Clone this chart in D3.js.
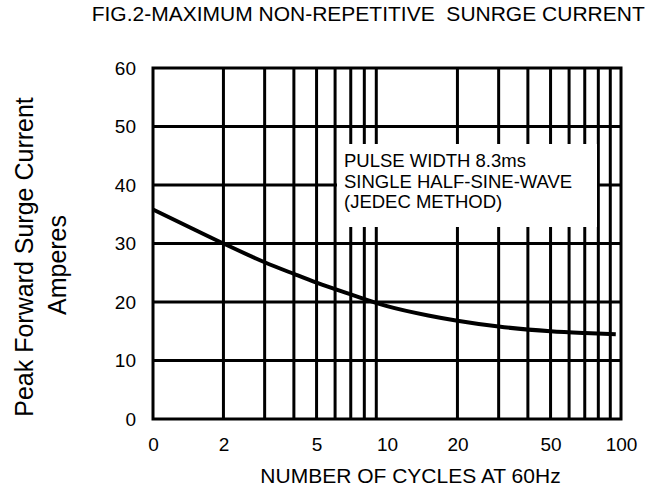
<!DOCTYPE html>
<html>
<head>
<meta charset="utf-8">
<script src="https://cdn.jsdelivr.net/npm/d3@7"></script>
<style>
  html, body { margin: 0; padding: 0; background: #fff; }
  svg { display: block; font-family: "Liberation Sans", Arial, sans-serif; }
</style>
</head>
<body>
<script>
// ---- data ----
const cycles = [1, 1.5, 2, 3, 4, 5, 7, 10, 15, 20, 30, 50, 70, 95];
const amps   = [35.8, 32.4, 30.0, 26.8, 24.8, 23.3, 21.3, 19.3, 17.7, 16.8, 15.8, 15.0, 14.7, 14.5];
const xTickValues = [1, 2, 5, 10, 20, 50, 100];
const xTickLabels = ["0", "2", "5", "10", "20", "50", "100"];
const yTickValues = [0, 10, 20, 30, 40, 50, 60];
const xGridValues = [2, 3, 4, 5, 6, 7, 8, 9, 20, 30, 40, 50, 60, 70, 80, 90];
const yGridValues = [10, 20, 30, 40, 50];
const noteLines = ["PULSE WIDTH 8.3ms", "SINGLE HALF-SINE-WAVE", "(JEDEC METHOD)"];
const titleText = "FIG.2-MAXIMUM NON-REPETITIVE  SUNRGE CURRENT";
const xTitle = "NUMBER OF CYCLES AT 60Hz";
const yTitle1 = "Peak Forward Surge Current";
const yTitle2 = "Amperes";

// ---- layout ----
const W = 665, H = 492;
const pLeft = 153, pRight = 621, pTop = 68, pBottom = 419;

const svg = d3.select("body").append("svg").attr("width", W).attr("height", H);

const x = d3.scaleLog().domain([1, 100]).range([pLeft, pRight]);
const y = d3.scaleLinear().domain([0, 60]).range([pBottom, pTop]);

// grid
const grid = svg.append("g").attr("stroke", "#000").attr("stroke-width", 3);
grid.selectAll("line.v").data(xGridValues).join("line").attr("class", "v")
  .attr("x1", d => x(d)).attr("x2", d => x(d)).attr("y1", y(0)).attr("y2", y(60));
grid.selectAll("line.h").data(yGridValues).join("line").attr("class", "h")
  .attr("x1", x(1)).attr("x2", x(100)).attr("y1", d => y(d)).attr("y2", d => y(d));

// note box
const box = { x0: 337, x1: 597, y0: 144, y1: 227 };
svg.append("rect").attr("x", box.x0).attr("y", box.y0)
  .attr("width", box.x1 - box.x0).attr("height", box.y1 - box.y0).attr("fill", "#fff");
svg.append("g").selectAll("text").data(noteLines).join("text")
  .attr("x", 344).attr("y", (d, i) => 166.7 + i * 20.8)
  .attr("font-size", 18.5).attr("fill", "#000").text(d => d);

// curve
const line = d3.line().x(d => x(d[0])).y(d => y(d[1])).curve(d3.curveMonotoneX);
svg.append("path").datum(cycles.map((c, i) => [c, amps[i]]))
  .attr("d", line).attr("fill", "none").attr("stroke", "#000").attr("stroke-width", 4);

// border
svg.append("rect").attr("x", x(1)).attr("y", y(60))
  .attr("width", x(100) - x(1)).attr("height", y(0) - y(60))
  .attr("fill", "none").attr("stroke", "#000").attr("stroke-width", 3);

// axes
const xAxis = d3.axisBottom(x).tickValues(xTickValues)
  .tickFormat((d, i) => xTickLabels[i]).tickSize(0).tickPadding(18.5);
const gx = svg.append("g").attr("transform", `translate(0,${pBottom})`).call(xAxis);
gx.select(".domain").remove();
gx.selectAll("text").attr("font-size", 19).attr("font-family", "Liberation Sans, Arial, sans-serif").attr("fill", "#000");

const yAxis = d3.axisLeft(y).tickValues(yTickValues).tickSize(0).tickPadding(17);
const gy = svg.append("g").attr("transform", `translate(${pLeft},0)`).call(yAxis);
gy.select(".domain").remove();
gy.selectAll("text").attr("font-size", 19).attr("font-family", "Liberation Sans, Arial, sans-serif").attr("fill", "#000");

// titles
svg.append("text").attr("x", 91.7).attr("y", 20.5).attr("font-size", 21)
  .style("white-space", "pre").attr("fill", "#000").text(titleText);
svg.append("text").attr("x", 410.5).attr("y", 483).attr("text-anchor", "middle")
  .attr("font-size", 21).attr("fill", "#000").text(xTitle);
svg.append("text").attr("transform", "translate(33,257) rotate(-90)")
  .attr("text-anchor", "middle").attr("font-size", 25).attr("fill", "#000").text(yTitle1);
svg.append("text").attr("transform", "translate(66,265) rotate(-90)")
  .attr("text-anchor", "middle").attr("font-size", 25).attr("fill", "#000").text(yTitle2);
</script>
</body>
</html>
